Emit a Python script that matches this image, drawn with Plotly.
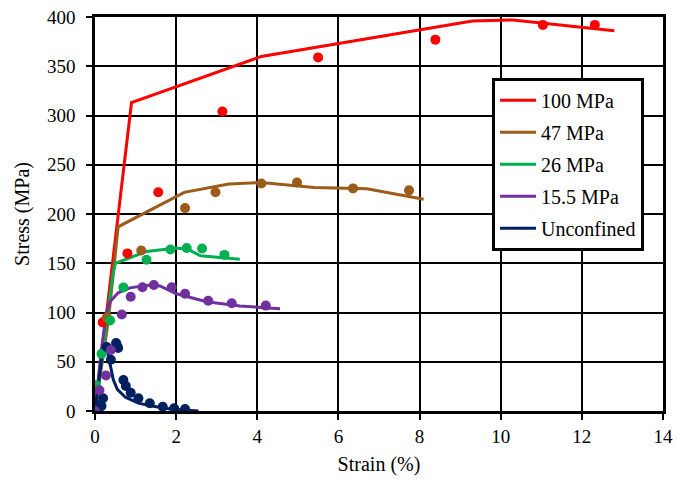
import plotly.graph_objects as go

# ---- data ----
names = ["100 MPa", "47 MPa", "26 MPa", "15.5 MPa", "Unconfined"]
colors = ["#FF0000", "#9C5B18", "#00B050", "#7030A0", "#002060"]

# fitted curves
line_100_x = [0, 0.9, 4.1, 9.3, 10.3, 12.8]
line_100_y = [0, 313, 360, 396, 397, 386]
line_47_x = [0, 0.33, 0.57, 2.2, 3.3, 4.1, 5.4, 6.7, 8.1]
line_47_y = [0, 92, 187, 222, 230.5, 232, 227, 225.6, 215]
line_26_x = [0, 0.15, 0.3, 0.45, 0.5, 1.27, 2.0, 2.3, 2.6, 3.57]
line_26_y = [0, 50, 95, 140, 150, 162, 165.5, 164, 157.5, 154]
line_15_x = [0, 0.15, 0.28, 0.37, 0.57, 0.86, 1.35, 1.6, 2.01, 2.75, 3.57, 4.56]
line_15_y = [0, 60, 100, 111, 120, 125, 128, 127, 119, 111, 106.7, 103.7]
line_un_x = [0, 0.1, 0.2, 0.3, 0.38, 0.45, 0.55, 0.75, 1.07, 1.4, 1.85, 2.55]
line_un_y = [0, 30, 65, 62, 45, 32, 22, 14, 8, 5, 2, 0]

# experimental points
pts_100_x = [0, 0.19, 0.80, 1.56, 3.14, 5.5, 8.39, 11.04, 12.32]
pts_100_y = [0, 90, 160, 222, 304, 359, 377, 392, 392]
pts_47_x = [0, 0.29, 1.14, 2.22, 2.97, 4.1, 4.98, 6.36, 7.74]
pts_47_y = [0, 95, 163, 206, 222, 231, 232, 226, 224]
pts_26_x = [0.02, 0.16, 0.37, 0.70, 1.27, 1.86, 2.26, 2.64, 3.19]
pts_26_y = [26.4, 58, 92, 125.5, 153.5, 164, 165.5, 165, 158.5]
pts_15_x = [0, 0.11, 0.27, 0.39, 0.66, 0.88, 1.17, 1.45, 1.89, 2.22, 2.79, 3.37, 4.21]
pts_15_y = [0, 21, 36, 62, 98, 116, 125.7, 128, 125.7, 119, 112, 109.4, 107]
pts_un_x = [0.04, 0.1, 0.16, 0.2, 0.29, 0.39, 0.52, 0.55, 0.57, 0.70, 0.76, 0.88, 1.07, 1.35, 1.67, 1.95, 2.22]
pts_un_y = [4.4, 6, 5, 13, 65, 52, 69, 66, 64, 31.5, 25.4, 18.6, 12.9, 7.8, 4.4, 2.7, 2]

x_ticks = [0, 2, 4, 6, 8, 10, 12, 14]
y_ticks = [0, 50, 100, 150, 200, 250, 300, 350, 400]

lines = [(line_100_x, line_100_y), (line_47_x, line_47_y), (line_26_x, line_26_y),
         (line_15_x, line_15_y), (line_un_x, line_un_y)]
points = [(pts_100_x, pts_100_y), (pts_47_x, pts_47_y), (pts_26_x, pts_26_y),
          (pts_un_x, pts_un_y), (pts_15_x, pts_15_y)]
point_colors = [colors[0], colors[1], colors[2], colors[4], colors[3]]

FONT = "Liberation Serif, Times New Roman, serif"
fig = go.Figure()

for i, ((lx, ly), name, c) in enumerate(zip(lines, names, colors)):
    fig.add_trace(go.Scatter(x=lx, y=ly, mode="lines", name=name, legendgroup=f"g{i}",
                             line=dict(color=c, width=3), showlegend=True))

for (px, py), c in zip(points, point_colors):
    fig.add_trace(go.Scatter(x=px, y=py, mode="markers", showlegend=False,
                             marker=dict(color=c, size=10, line=dict(width=0))))

axis_common = dict(showgrid=True, gridcolor="black", gridwidth=1.8,
                   showline=True, linecolor="black", linewidth=2.5, mirror=True,
                   ticks="outside", ticklen=6, tickcolor="black", tickwidth=1.5,
                   zeroline=False, automargin=False,
                   tickfont=dict(family=FONT, size=19, color="black"))

fig.update_xaxes(range=[0, 14], tickvals=x_ticks, ticklabelstandoff=0,
                 title=dict(text="Strain (%)", font=dict(family=FONT, size=20, color="black"), standoff=12),
                 **axis_common)
fig.update_yaxes(range=[0, 400], tickvals=y_ticks, ticklabelstandoff=7,
                 title=dict(text="Stress (MPa)", font=dict(family=FONT, size=20, color="black"), standoff=12),
                 **axis_common)

fig.update_layout(
    width=677, height=483,
    margin=dict(l=95, r=14, t=17, b=72),
    plot_bgcolor="white", paper_bgcolor="white",
    font=dict(family=FONT, color="black"),
    legend=dict(x=0.699, y=0.846, xanchor="left", yanchor="top",
                bgcolor="white", bordercolor="black", borderwidth=3,
                font=dict(family=FONT, size=20, color="black"),
                tracegroupgap=3, itemwidth=36),
)

fig.write_html("out.html", config={"displayModeBar": False},
               post_script="document.body.style.margin='0px';document.body.style.overflow='hidden';")
